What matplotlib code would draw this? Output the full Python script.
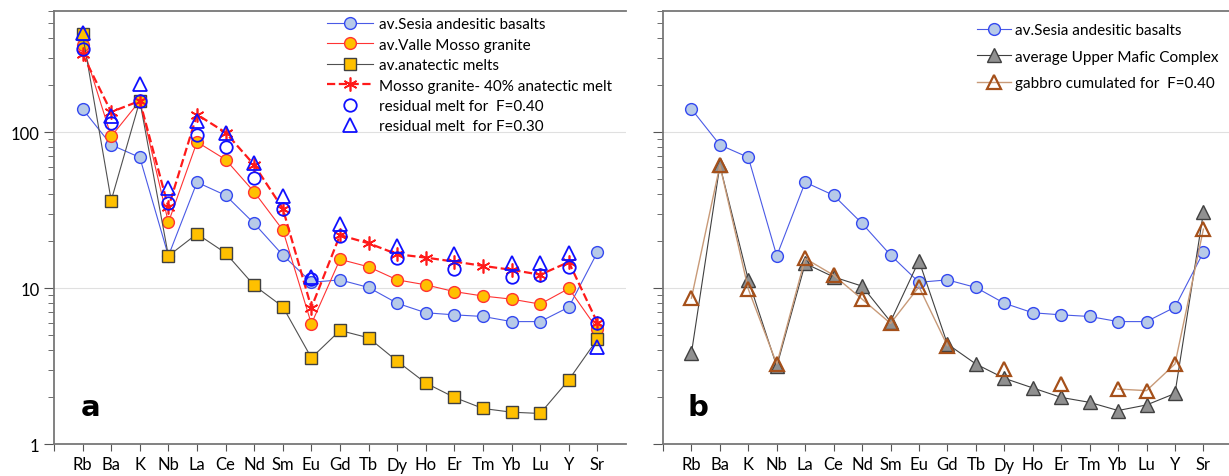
import numpy as np
import matplotlib.pyplot as plt

plt.rcParams['font.family'] = ['Lato', 'DejaVu Sans']

elements = ['Rb', 'Ba', 'K', 'Nb', 'La', 'Ce', 'Nd', 'Sm', 'Eu', 'Gd',
            'Tb', 'Dy', 'Ho', 'Er', 'Tm', 'Yb', 'Lu', 'Y', 'Sr']
nan = np.nan

# panel a
sesia = [141, 83, 69, 16.1, 47.8, 39.4, 26, 16.3, 10.9, 11.3,
         10.1, 8.0, 6.95, 6.74, 6.58, 6.1, 6.1, 7.55, 17.0]
valle_mosso = [361, 94, 159, 26.4, 86.7, 66.8, 41.4, 23.6, 5.9, 15.3,
               13.7, 11.3, 10.5, 9.5, 8.9, 8.5, 7.9, 9.95, 5.46]
anatectic = [425, 36.5, 159, 16.1, 22.3, 16.8, 10.4, 7.6, 3.57, 5.35,
             4.8, 3.4, 2.46, 1.99, 1.69, 1.6, 1.57, 2.58, 4.71]
mosso_40 = [316, 135, 159, 33, 130, 99.6, 61.7, 32.4, 7.5, 21.9,
            19.4, 16.5, 15.7, 14.8, 13.9, 13.1, 12.2, 14.7, 6.0]
resid_040 = [340, 114, 159, 35.4, 95.7, 80.5, 51.2, 32.1, 11.4, 21.6,
             nan, 15.5, nan, 13.2, nan, 11.8, 12.1, 13.7, 5.94]
resid_030 = [436, 127, 203, 44.2, 118, 99.5, 63.9, 39, 11.8, 25.7,
             nan, 18.7, nan, 16.5, nan, 14.4, 14.6, 16.8, 4.17]

# panel b
upper_mafic = [3.83, 61.4, 11.3, 3.15, 14.4, 11.8, 10.3, 6.1, 15, 4.38,
               3.26, 2.64, 2.29, 1.99, 1.85, 1.64, 1.78, 2.11, 30.6]
gabbro_040 = [8.63, 61.4, 9.86, 3.26, 15.5, 12.1, 8.5, 5.94, 10.2, 4.27,
              nan, 3.03, nan, 2.42, nan, 2.25, 2.2, 3.26, 23.9]

x = np.arange(1, len(elements) + 1)

fig = plt.figure(figsize=(12.29, 4.77), dpi=100)
ax1 = fig.add_axes([54 / 1229, 1 - 445 / 477, 572 / 1229, 433 / 477])
ax2 = fig.add_axes([663 / 1229, 1 - 445 / 477, 566 / 1229, 433 / 477])

ms = 8.5
ax1.plot(x, sesia, '-o', color='#4a5ae6', lw=0.8, ms=ms, mfc='#b7cae8',
         mec='#3348f0', mew=1.0, label='av.Sesia andesitic basalts')
ax1.plot(x, valle_mosso, '-o', color='#ff3333', lw=0.8, ms=ms, mfc='#ffc000',
         mec='#ff3333', mew=1.0, label='av.Valle Mosso granite')
ax1.plot(x, anatectic, '-s', color='#505050', lw=0.8, ms=ms, mfc='#ffc000',
         mec='#404040', mew=1.0, label='av.anatectic melts')
ax1.plot(x, mosso_40, '--', color='#ff1a1a', lw=1.6, marker=(6, 2, 0), ms=10,
         mec='#ff1a1a', mew=1.2, label='Mosso granite- 40% anatectic melt')
ax1.plot(x, resid_040, 'o', ms=ms + 0.5, mfc='none', mec='#1010ff', mew=1.3,
         label='residual melt for  F=0.40')
ax1.plot(x, resid_030, '^', ms=ms + 1, mfc='none', mec='#1010ff', mew=1.3,
         label='residual melt  for F=0.30')

ax2.plot(x, sesia, '-o', color='#4a5ae6', lw=0.8, ms=ms, mfc='#b7cae8',
         mec='#3348f0', mew=1.0, label='av.Sesia andesitic basalts')
ax2.plot(x, upper_mafic, '-^', color='#404040', lw=0.8, ms=ms + 1, mfc='#909090',
         mec='#404040', mew=1.0, label='average Upper Mafic Complex')
ax2.plot(x, gabbro_040, '-^', color='#c89a78', lw=1.0, ms=ms + 1, mfc='none',
         mec='#a5501a', mew=1.6, label='gabbro cumulated for  F=0.40')

for ax, lab, lx in [(ax1, 'a', 0.047), (ax2, 'b', 0.044)]:
    ax.set_yscale('log')
    ax.set_ylim(1, 600)
    ax.set_xlim(0, 20)
    ax.set_xticks(np.arange(0, 20))
    ax.set_xticklabels([''] + elements, fontsize=12)
    ax.tick_params(axis='x', length=5, color='#555555', pad=4)
    ax.tick_params(axis='y', which='major', length=7, color='#555555',
                   labelsize=12)
    ax.tick_params(axis='y', which='minor', length=4, color='#555555')
    ax.grid(True, axis='y', which='major', color='#e0e0e0', lw=0.8)
    ax.set_axisbelow(True)
    for s in ['left', 'top', 'bottom']:
        ax.spines[s].set_color('#777777')
        ax.spines[s].set_linewidth(1.3)
    ax.spines['right'].set_visible(False)
    ax.text(lx, 0.066, lab, transform=ax.transAxes, fontsize=21,
            fontweight='bold', family='DejaVu Sans')

ax1.set_yticks([1, 10, 100])
ax1.set_yticklabels(['1', '10', '100'])
ax2.set_xlim(0, 19.9)
ax2.set_yticks([1, 10, 100])
ax2.set_yticklabels([])

ax1.legend(loc='upper left', bbox_to_anchor=(0.453, 1.017), frameon=False,
           fontsize=11, handlelength=3.0, labelspacing=0.42, handletextpad=0.4,
           numpoints=1)
ax2.legend(loc='upper left', bbox_to_anchor=(0.531, 1.004), frameon=False,
           fontsize=11, handlelength=2.2, labelspacing=0.83, handletextpad=0.3,
           numpoints=1)

fig.savefig('out.png', dpi=100)
